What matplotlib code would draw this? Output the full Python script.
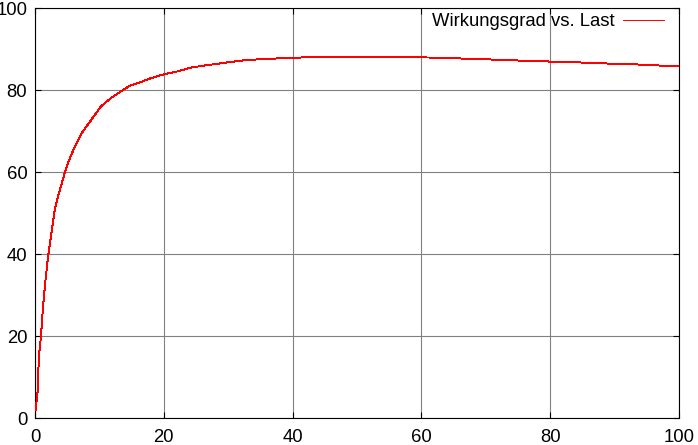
import matplotlib
matplotlib.use("Agg")
import matplotlib.pyplot as plt

# Wirkungsgrad (%) ueber Last (%)
last = [0.1, 0.4, 0.6, 0.93, 1.24, 1.6, 2.07, 2.53, 3.05, 3.7, 4.65, 5.27,
        6.05, 7.35, 8.6, 10.2, 11.7, 13.4, 14.8, 16.4, 17.9, 20.0, 22.1,
        24.1, 25.7, 29.8, 32.9, 38.0, 42.9, 50.0, 61.1, 69.3, 74.3, 80.2,
        84.4, 89.4, 93.5, 97.5, 100.0]
wirkungsgrad = [2.0, 6.5, 15.0, 20.0, 27.2, 33.3, 40.0, 45.0, 50.7, 54.8,
                60.0, 62.9, 65.8, 69.8, 72.5, 76.0, 78.0, 79.8, 81.2, 82.0,
                82.9, 83.9, 84.6, 85.5, 85.9, 86.8, 87.4, 87.8, 88.1, 88.15,
                88.0, 87.6, 87.3, 87.0, 86.8, 86.5, 86.3, 86.0, 86.0]
x_ticks = [0, 20, 40, 60, 80, 100]
y_ticks = [0, 20, 40, 60, 80, 100]
legend_label = "Wirkungsgrad vs. Last"

plt.rcParams["font.family"] = ["Liberation Sans", "DejaVu Sans"]

W, H = 698, 445
fig = plt.figure(figsize=(W / 100, H / 100), dpi=100)
ax = fig.add_axes([35 / W, (H - 418.3) / H, (679 - 35) / W, (418.3 - 8.3) / H])

# gnuplot-like thin, aliased red line
ax.plot(last, wirkungsgrad, color="#ff0000", lw=0.7, label=legend_label,
        antialiased=False, zorder=3)

ax.set_xlim(0, 100)
ax.set_ylim(0, 100)
ax.set_xticks(x_ticks)
ax.set_yticks(y_ticks)
ax.grid(True, color="#808080", lw=0.8, linestyle="-")
ax.set_axisbelow(True)

ax.tick_params(direction="in", length=4, width=0.8, top=True, right=True,
               labelsize=13.3, colors="black")
ax.tick_params(axis="y", pad=5.5)
ax.tick_params(axis="x", pad=8)
for s in ax.spines.values():
    s.set_linewidth(0.8)
    s.set_color("black")

leg = ax.legend(loc="upper right", bbox_to_anchor=(664 / W, (H - 13) / H),
                bbox_transform=fig.transFigure, frameon=False, markerfirst=False,
                fontsize=13.3, handlelength=2.2, handletextpad=0.45,
                borderpad=0, borderaxespad=0)

fig.savefig("out.png", dpi=100)
